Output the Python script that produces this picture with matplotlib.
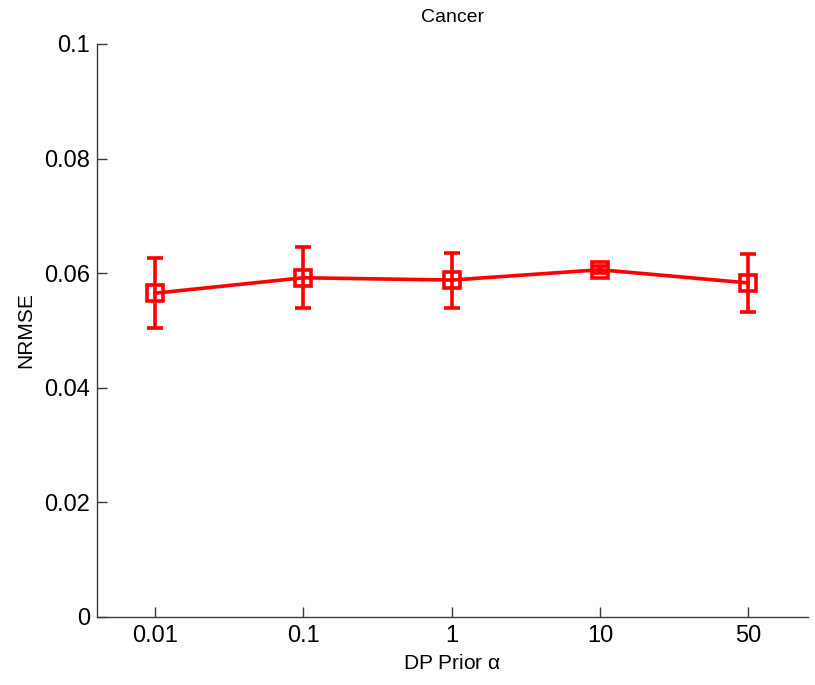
import numpy as np
import matplotlib
matplotlib.use('Agg')
import matplotlib.pyplot as plt

plt.rcParams['font.family'] = ['Liberation Sans', 'DejaVu Sans']
plt.rcParams['mathtext.fontset'] = 'custom'
plt.rcParams['mathtext.rm'] = 'Liberation Sans'
plt.rcParams['mathtext.it'] = 'Liberation Sans'

# DP prior alpha settings and NRMSE (mean, std)
alpha_labels = ['0.01', '0.1', '1', '10', '50']
nrmse = [0.0565, 0.0592, 0.0588, 0.0606, 0.0583]
nrmse_err = [0.0061, 0.0053, 0.0048, 0.0006, 0.0051]

fig = plt.figure(figsize=(8.15, 6.85), dpi=100)
ax = fig.add_axes([0.119, 0.0993, 0.872, 0.8365])

x = np.arange(1, len(alpha_labels) + 1)
ax.errorbar(x, nrmse, yerr=nrmse_err, color='red', linewidth=2.6,
            marker='s', markersize=11, markerfacecolor='none',
            markeredgewidth=2.6, capsize=5.5, elinewidth=2.6, capthick=2.6)

ax.set_xlim(0.61, 5.4)
ax.set_ylim(0, 0.1)
ax.set_xticks(x)
ax.set_xticklabels(alpha_labels)
ax.set_yticks([0, 0.02, 0.04, 0.06, 0.08, 0.1])
ax.set_yticklabels(['0', '0.02', '0.04', '0.06', '0.08', '0.1'])

for s in ['top', 'right']:
    ax.spines[s].set_visible(False)
for s in ['left', 'bottom']:
    ax.spines[s].set_color('#3a3a3a')
    ax.spines[s].set_linewidth(1.0)
ax.tick_params(direction='in', length=7, width=1, color='#3a3a3a',
               labelsize=17)
ax.tick_params(axis='x', pad=6)
ax.tick_params(axis='y', pad=5)

ax.set_xlabel(r'DP Prior $\alpha$', fontsize=15, labelpad=5)
ax.set_ylabel('NRMSE', fontsize=15, labelpad=6)
ax.set_title('Cancer', fontsize=14, pad=16)

fig.savefig('out.png', dpi=100)
